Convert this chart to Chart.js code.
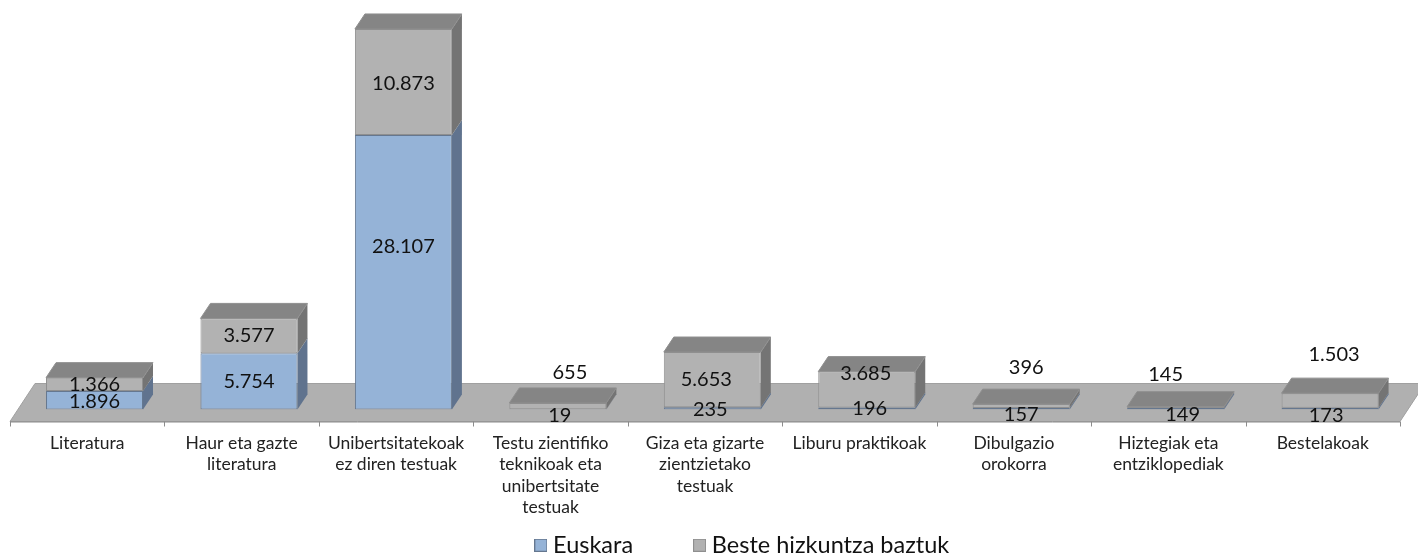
<!DOCTYPE html>
<html><head><meta charset="utf-8">
<style>html,body{margin:0;padding:0;background:#fff}#w{width:1418px;height:556px}</style>
<script src="https://cdn.jsdelivr.net/npm/chart.js@4"></script>
</head><body><div id="w"><canvas id="c" width="1418" height="556"></canvas></div>
<script>
const categories = [
  "Literatura",
  ["Haur eta gazte","literatura"],
  ["Unibertsitatekoak","ez diren testuak"],
  ["Testu zientifiko","teknikoak eta","unibertsitate","testuak"],
  ["Giza eta gizarte","zientzietako","testuak"],
  "Liburu praktikoak",
  ["Dibulgazio","orokorra"],
  ["Hiztegiak eta","entziklopediak"],
  "Bestelakoak"
];
const euskara = [1896,5754,28107,19,235,196,157,149,173];
const besteak = [1366,3577,10873,655,5653,3685,396,145,1503];
const euskaraLabels = ["1.896","5.754","28.107","19","235","196","157","149","173"];
const besteakLabels = ["1.366","3.577","10.873","655","5.653","3.685","396","145","1.503"];
// hand-moved data labels in the original (dx, dy from segment centre)
const euskaraNudge = [[0,1],[0,0],[0,-26],[2,6],[-2,1],[3,0],[0,6],[7,6],[-4,7]];
const besteakNudge = [[0,0],[0,0],[0,2],[12,-34],[-6,0],[-1,-16],[5,-38],[-10,-33],[4,-46]];

const DX=10, DY=15, SHIFT=7.3, FLOOR_FRONT=12, FLOOR_BACK=26;
const FONT='Lato, "Open Sans", sans-serif';

function swatch(fill,line){
  const c=document.createElement('canvas');c.width=13;c.height=13;
  const g=c.getContext('2d');
  g.fillStyle=fill;g.fillRect(0,0,13,13);
  g.strokeStyle=line;g.lineWidth=1;g.strokeRect(.5,.5,12,12);
  return c;
}

const box3d={
  id:'box3d',
  afterLayout(chart){
    const l=chart.legend; l.left+=65;
    l.top=556-l.height+11;
    chart.scales.x.bottom=556;
  },
  beforeDatasetsDraw(chart){
    const {ctx}=chart, a=chart.chartArea, x=chart.scales.x, base=a.bottom;
    const L=x.left-SHIFT, R=x.right-SHIFT;
    ctx.save();
    ctx.fillStyle='#b0b0b0'; ctx.strokeStyle='#a0a0a0'; ctx.lineWidth=1;
    ctx.beginPath();
    ctx.moveTo(L,base+FLOOR_FRONT);ctx.lineTo(R,base+FLOOR_FRONT);
    ctx.lineTo(R+25,base-FLOOR_BACK);ctx.lineTo(L+25,base-FLOOR_BACK);ctx.closePath();
    ctx.fill();ctx.stroke();
    ctx.strokeStyle='#8c8c8c';
    ctx.beginPath();ctx.moveTo(L,base+FLOOR_FRONT+.5);ctx.lineTo(R,base+FLOOR_FRONT+.5);
    const n=categories.length;
    for(let i=0;i<=n;i++){const p=Math.round(L+(R-L)*i/n)+.5;ctx.moveTo(p,base+FLOOR_FRONT);ctx.lineTo(p,base+FLOOR_FRONT+5);}
    ctx.stroke();
    const side=['#60738e','#747474'];
    [0,1].forEach(d=>{
      chart.getDatasetMeta(d).data.forEach(b=>{
        const r=b.x+b.width/2;
        ctx.fillStyle=side[d];
        ctx.beginPath();ctx.moveTo(r,b.base);ctx.lineTo(r+DX,b.base-DY);ctx.lineTo(r+DX,b.y-DY);ctx.lineTo(r,b.y);ctx.closePath();ctx.fill();
      });
    });
    ctx.restore();
  },
  afterDatasetsDraw(chart){
    const {ctx}=chart;
    ctx.save();
    chart.getDatasetMeta(1).data.forEach(b=>{
      const l=b.x-b.width/2,r=b.x+b.width/2;
      ctx.fillStyle='#858585';ctx.strokeStyle='#8f8f8f';ctx.lineWidth=1;
      ctx.beginPath();ctx.moveTo(l,b.y);ctx.lineTo(l+DX,b.y-DY);ctx.lineTo(r+DX,b.y-DY);ctx.lineTo(r,b.y);ctx.closePath();ctx.fill();ctx.stroke();
    });
    ctx.font='20px '+FONT;ctx.fillStyle='#111';ctx.textAlign='center';ctx.textBaseline='middle';
    [[0,euskaraLabels,euskaraNudge],[1,besteakLabels,besteakNudge]].forEach(([d,t,n])=>{
      chart.getDatasetMeta(d).data.forEach((b,i)=>{
        ctx.fillText(t[i],b.x+n[i][0],(b.y+b.base)/2+n[i][1]);
      });
    });
    ctx.restore();
  }
};

new Chart(document.getElementById('c'),{
  type:'bar',
  data:{labels:categories,datasets:[
    {label:'Euskara',data:euskara,backgroundColor:'#95b3d7',borderColor:'#65778f',borderWidth:1,borderSkipped:false},
    {label:'Beste hizkuntza baztuk',data:besteak,backgroundColor:'#b2b2b2',borderColor:'#8f8f8f',borderWidth:1,borderSkipped:false}
  ]},
  options:{
    responsive:false,animation:false,
    layout:{padding:{left:17.3,right:10.7,top:19,bottom:0}},
    datasets:{bar:{categoryPercentage:1,barPercentage:.628}},
    plugins:{
      tooltip:{enabled:false},
      legend:{position:'bottom',labels:{
        usePointStyle:true,boxWidth:1,boxHeight:13,padding:66,color:'#111',font:{family:FONT,size:23.5},
        generateLabels(chart){
          return Chart.defaults.plugins.legend.labels.generateLabels(chart).map((it,i)=>{
            const ds=chart.data.datasets[i];
            it.pointStyle=swatch(ds.backgroundColor,ds.borderColor);
            return it;
          });
        }
      }}
    },
    scales:{
      x:{stacked:true,grid:{display:false},border:{display:false},
        afterFit(s){s.height=47;},
        ticks:{autoSkip:false,maxRotation:0,padding:15,labelOffset:-SHIFT,color:'#222',font:{family:FONT,size:17.5,lineHeight:1.23}}},
      y:{stacked:true,display:false,min:0,max:40000}
    }
  },
  plugins:[box3d]
});
</script></body></html>
